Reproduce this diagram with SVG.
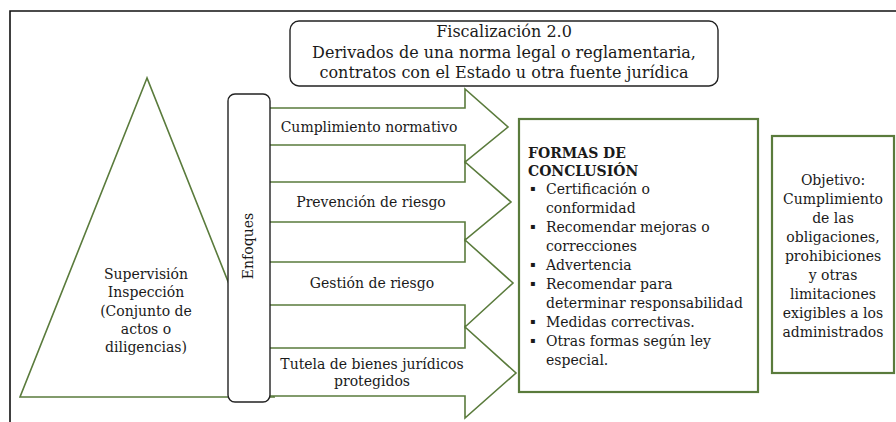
<svg xmlns="http://www.w3.org/2000/svg" width="896" height="422" viewBox="0 0 896 422">
<style>
text{font-family:"DejaVu Serif","Liberation Serif",serif;fill:#1a1a1a;font-size:14px}
.c{text-anchor:middle}
.g{fill:#fff;stroke:#5a7b3c;stroke-width:1.6}
.gb{fill:#fff;stroke:#5a7b3c;stroke-width:2.2}
.k{fill:#fff;stroke:#222;stroke-width:1.4}
.t{font-size:16px}
.b{font-weight:bold}
.u{font-size:8px}
</style>
<rect width="896" height="422" fill="#fff"/>
<g id="frame"><path d="M10 422V11H896" fill="none" stroke="#111" stroke-width="1.6"/></g>
<g id="fiscalizacion">
<rect class="k" x="290" y="21" width="428" height="65" rx="9"/>
<text class="c t" x="504" y="37">Fiscalización 2.0</text>
<text class="c t" x="504" y="58">Derivados de una norma legal o reglamentaria,</text>
<text class="c t" x="504" y="78">contratos con el Estado u otra fuente jurídica</text>
</g>
<g id="supervision">
<polygon class="g" points="147,78 20,397 274,397"/>
<text class="c" x="146" y="279">Supervisión</text>
<text class="c" x="146" y="297">Inspección</text>
<text class="c" x="146" y="316">(Conjunto de</text>
<text class="c" x="146" y="334">actos o</text>
<text class="c" x="146" y="352">diligencias)</text>
</g>
<g id="arrow-cumplimiento">
<polygon class="g" points="262,108 465,108 465,89 508,127 465,162 465,145 262,145"/>
<text class="c" x="369" y="132">Cumplimiento normativo</text>
</g>
<g id="arrow-prevencion">
<polygon class="g" points="262,182 465,182 465,162 511,202 465,240 465,222 262,222"/>
<text class="c" x="371" y="207">Prevención de riesgo</text>
</g>
<g id="arrow-gestion">
<polygon class="g" points="262,262 465,262 465,240 513,283 465,327 465,305 262,305"/>
<text class="c" x="372" y="288">Gestión de riesgo</text>
</g>
<g id="arrow-tutela">
<polygon class="g" points="262,348 465,348 465,327 516,373 465,418 465,396 262,396"/>
<text class="c" x="372" y="369">Tutela de bienes jurídicos</text>
<text class="c" x="372" y="386">protegidos</text>
</g>
<g id="enfoques">
<rect class="k" x="228" y="94" width="42" height="308" rx="7"/>
<text class="c" transform="translate(253,246) rotate(-90)">Enfoques</text>
</g>
<g id="formas">
<rect class="gb" x="519" y="119" width="239" height="273"/>
<text class="b" x="528" y="158">FORMAS DE</text>
<text class="b" x="528" y="176">CONCLUSIÓN</text>
<text class="u" x="530" y="191">▪</text><text x="546" y="194">Certificación o</text>
<text x="546" y="213">conformidad</text>
<text class="u" x="530" y="229">▪</text><text x="546" y="232">Recomendar mejoras o</text>
<text x="546" y="251">correcciones</text>
<text class="u" x="530" y="267">▪</text><text x="546" y="270">Advertencia</text>
<text class="u" x="530" y="286">▪</text><text x="546" y="289">Recomendar para</text>
<text x="546" y="308">determinar responsabilidad</text>
<text class="u" x="530" y="324">▪</text><text x="546" y="327">Medidas correctivas.</text>
<text class="u" x="530" y="343">▪</text><text x="546" y="346">Otras formas según ley</text>
<text x="546" y="365">especial.</text>
</g>
<g id="objetivo">
<rect class="gb" x="772" y="136" width="122" height="237"/>
<text class="c" x="833" y="185">Objetivo:</text>
<text class="c" x="833" y="204">Cumplimiento</text>
<text class="c" x="833" y="223">de las</text>
<text class="c" x="833" y="242">obligaciones,</text>
<text class="c" x="833" y="261">prohibiciones</text>
<text class="c" x="833" y="280">y otras</text>
<text class="c" x="833" y="299">limitaciones</text>
<text class="c" x="833" y="318">exigibles a los</text>
<text class="c" x="833" y="337">administrados</text>
</g>
<g id="connectors"></g>
</svg>
